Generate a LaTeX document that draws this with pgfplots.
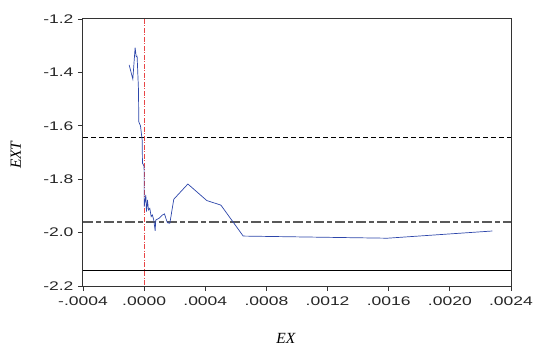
\documentclass[border=0pt]{standalone}
\usepackage{pgfplots}
\pgfplotsset{compat=1.18}
\usepackage{fontspec}
\setmainfont{Liberation Sans}
\newfontfamily\tickfont[FakeStretch=1.4]{Liberation Sans}
\newfontfamily\timesfont{Liberation Serif}
\definecolor{serblue}{RGB}{45,70,170}
\definecolor{refred}{RGB}{232,70,70}
\begin{document}
\begin{tikzpicture}
\path[use as bounding box] (-83pt,-64pt) rectangle (451pt,286pt);
\begin{axis}[
  at={(0,0)}, anchor=south west,
  scale only axis,
  width=428pt, height=267pt,
  xmin=-0.0004, xmax=0.0024,
  ymin=-2.2, ymax=-1.2,
  xtick={-0.0004,0,0.0004,0.0008,0.0012,0.0016,0.0020,0.0024},
  xticklabels={-.0004,.0000,.0004,.0008,.0012,.0016,.0020,.0024},
  ytick={-2.2,-2.0,-1.8,-1.6,-1.4,-1.2},
  yticklabels={-2.2,-2.0,-1.8,-1.6,-1.4,-1.2},
  scaled x ticks=false,
  tick align=outside,
  xtick pos=left, ytick pos=left,
  major tick length=5pt,
  tick style={line width=0.9pt, color=black!80},
  axis line style={line width=1pt, color=black!80},
  ticklabel style={font=\tickfont\fontsize{12.5}{14}\selectfont, color=black!85},
  xticklabel style={yshift=-2pt},
  yticklabel style={xshift=-1pt},
  xlabel={\timesfont\itshape EX},
  ylabel={\timesfont\itshape EXT},
  label style={font=\fontsize{15.5}{18}\selectfont},
  xlabel style={at={(axis description cs:0.474,-0.195)}, anchor=center},
  ylabel style={at={(axis description cs:-0.157,0.49)}, anchor=center},
  clip=true,
]
% critical lines
\addplot[black, dash pattern=on 5pt off 3pt, line width=0.8pt] coordinates {(-0.0004,-1.645) (0.0024,-1.645)};
\addplot[black!65, dash pattern=on 10pt off 3pt on 5pt off 3pt, line width=1.4pt] coordinates {(-0.0004,-1.96) (0.0024,-1.96)};
\addplot[black, line width=0.7pt] coordinates {(-0.0004,-2.14) (0.0024,-2.14)};
% zero line
\addplot[refred, dash pattern=on 5pt off 1.5pt on 1pt off 1.5pt, line width=0.7pt] coordinates {(0,-1.2) (0,-2.2)};
% series
\addplot[serblue, line width=0.7pt] coordinates {
(-0.000098,-1.372)
(-0.000074,-1.425)
(-0.000059,-1.307)
(-0.000052,-1.341)
(-0.000046,-1.339)
(-0.000037,-1.466)
(-0.000035,-1.585)
(-0.000024,-1.600)
(-0.000013,-1.653)
(-0.000011,-1.740)
(-0.000002,-1.749)
(0.000000,-1.766)
(0.000000,-1.903)
(0.000011,-1.859)
(0.000015,-1.921)
(0.000022,-1.878)
(0.000028,-1.915)
(0.000037,-1.909)
(0.000046,-1.940)
(0.000054,-1.934)
(0.000063,-1.953)
(0.000072,-1.993)
(0.000076,-1.953)
(0.000098,-1.946)
(0.000120,-1.934)
(0.000133,-1.930)
(0.000142,-1.946)
(0.000152,-1.963)
(0.000168,-1.965)
(0.000194,-1.875)
(0.000286,-1.818)
(0.000410,-1.880)
(0.000502,-1.897)
(0.000648,-2.013)
(0.001591,-2.021)
(0.002278,-1.994)
};
\end{axis}
\end{tikzpicture}
\end{document}
